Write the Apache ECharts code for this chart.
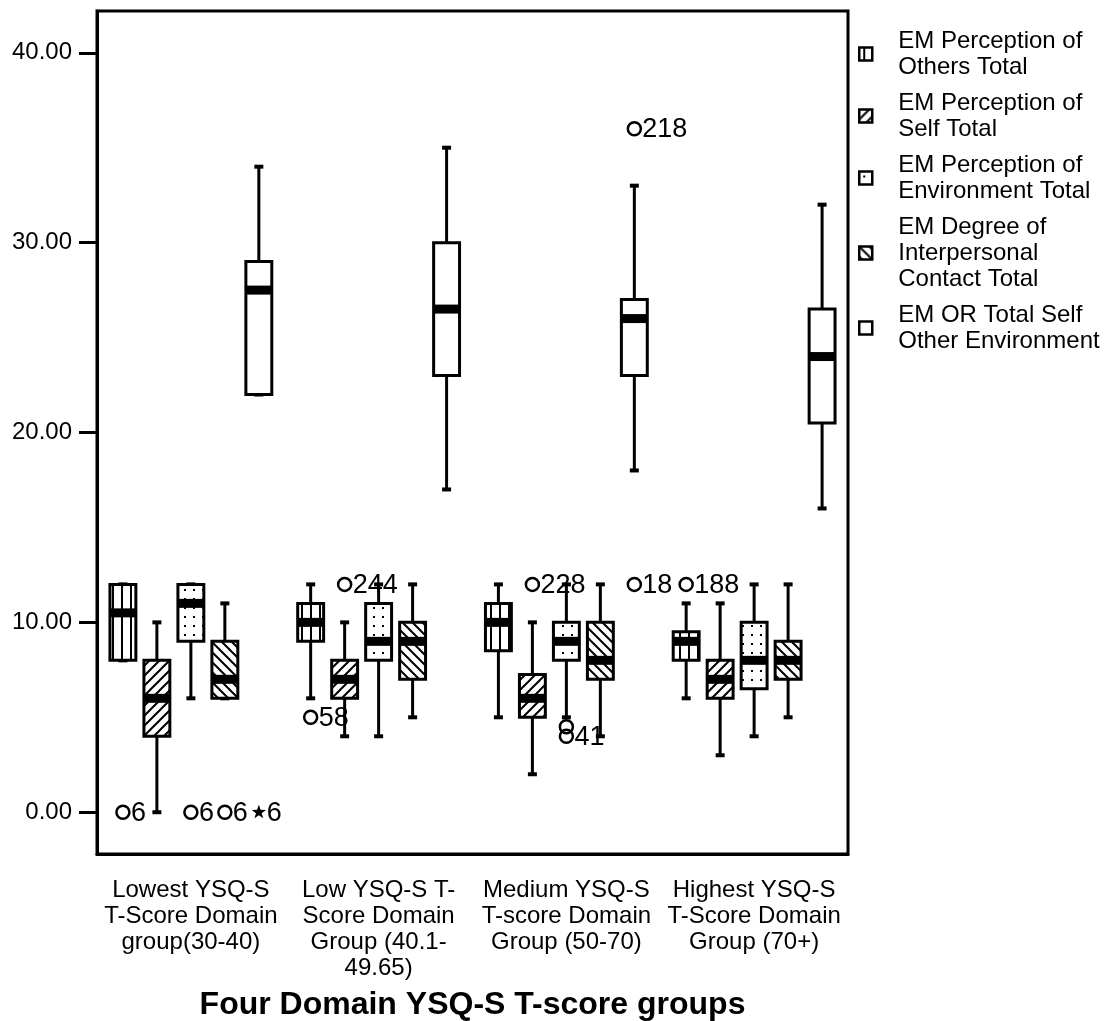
<!DOCTYPE html>
<html>
<head>
<meta charset="utf-8">
<script src="https://cdn.jsdelivr.net/npm/echarts@6/dist/echarts.min.js"></script>
<style>
  html, body { margin: 0; padding: 0; background: #fff; }
  #chart { width: 1112px; height: 1021px; }
</style>
</head>
<body>
<div id="chart"></div>
<script>
// x categories
var categories = [
  'Lowest YSQ-S\nT-Score Domain\ngroup(30-40)',
  'Low YSQ-S T-\nScore Domain\nGroup (40.1-\n49.65)',
  'Medium YSQ-S\nT-score Domain\nGroup (50-70)',
  'Highest YSQ-S\nT-Score Domain\nGroup (70+)'
];
var seriesNames = [
  'EM Perception of\nOthers Total',
  'EM Perception of\nSelf Total',
  'EM Perception of\nEnvironment Total',
  'EM Degree of\nInterpersonal\nContact Total',
  'EM OR Total Self\nOther Environment'
];
var yTicks = [0, 10, 20, 30, 40];

// box stats per group: [lower whisker, Q1, median, Q3, upper whisker]
var othersBox  = [[8, 8, 10.5, 12, 12], [6, 9, 10, 11, 12], [5, 8.5, 10, 11, 12], [6, 8, 9, 9.5, 11]];
var selfBox    = [[0, 4, 6, 8, 10], [4, 6, 7, 8, 10], [2, 5, 6, 7.25, 10], [3, 6, 7, 8, 11]];
var envBox     = [[6, 9, 11, 12, 12], [4, 8, 9, 11, 12], [5, 8, 9, 10, 12], [4, 6.5, 8, 10, 12]];
var contactBox = [[6, 6, 7, 9, 11], [5, 7, 9, 10, 12], [4, 7, 8, 10, 12], [5, 7, 8, 9, 12]];
var totalBox   = [[22, 22, 27.5, 29, 34], [17, 23, 26.5, 30, 35], [18, 23, 26, 27, 33], [16, 20.5, 24, 26.5, 32]];

// outliers: [group index, value, case label, extreme(1) or not(0)]
var othersOut  = [[0, 0, '6', 0], [1, 5, '58', 0], [3, 12, '188', 0]];
var selfOut    = [[1, 12, '244', 0], [2, 12, '228', 0]];
var envOut     = [[0, 0, '6', 0], [2, 4.5, '', 0], [2, 4, '41', 0]];
var contactOut = [[0, 0, '6', 0]];
var totalOut   = [[0, 0, '6', 1], [2, 36, '218', 0], [2, 12, '18', 0]];

var boxes = [othersBox, selfBox, envBox, contactBox, totalBox];
var outs = [othersOut, selfOut, envOut, contactOut, totalOut];
var patternKinds = ['vert', 'fwd', 'dots', 'back', 'none'];

var FONT = 'Liberation Sans, Arial, sans-serif';
var SLOT = 0.181;   // distance between boxes, share of band
var BOXW = 0.138;   // box width, share of band

function makePattern(kind) {
  if (kind === 'none') return '#fff';
  var s = (kind === 'dots' || kind === 'vert') ? 9 : 10;
  var c = document.createElement('canvas');
  c.width = s; c.height = s;
  var g = c.getContext('2d');
  g.fillStyle = '#fff';
  g.fillRect(0, 0, s, s);
  g.fillStyle = '#000';
  g.strokeStyle = '#000';
  g.lineWidth = 2;
  if (kind === 'vert') {
    g.fillRect(4, 0, 2, s);
  } else if (kind === 'dots') {
    g.fillRect(4, 4, 2, 2);
  } else if (kind === 'fwd') {
    g.beginPath();
    g.moveTo(-1, s + 1); g.lineTo(s + 1, -1);
    g.moveTo(-2, 2); g.lineTo(2, -2);
    g.moveTo(s - 2, s + 2); g.lineTo(s + 2, s - 2);
    g.stroke();
  } else if (kind === 'back') {
    g.beginPath();
    g.moveTo(-1, -1); g.lineTo(s + 1, s + 1);
    g.moveTo(s - 2, -2); g.lineTo(s + 2, 2);
    g.moveTo(-2, s - 2); g.lineTo(2, s + 2);
    g.stroke();
  }
  return { image: c, repeat: 'repeat' };
}
var patterns = patternKinds.map(makePattern);

function boxRenderer(slot, fill) {
  return function (params, api) {
    var band = api.size([1, 0])[0];
    var cx = api.coord([api.value(0), 0])[0] + (slot - 2) * band * SLOT;
    var w = band * BOXW;
    var yMin = api.coord([0, api.value(1)])[1];
    var yQ1 = api.coord([0, api.value(2)])[1];
    var yMed = api.coord([0, api.value(3)])[1];
    var yQ3 = api.coord([0, api.value(4)])[1];
    var yMax = api.coord([0, api.value(5)])[1];
    var line = { stroke: '#000', lineWidth: 3 };
    return {
      type: 'group',
      children: [
        { type: 'line', shape: { x1: cx, y1: yMax, x2: cx, y2: yQ3 }, style: line },
        { type: 'line', shape: { x1: cx, y1: yQ1, x2: cx, y2: yMin }, style: line },
        { type: 'rect', shape: { x: cx - 4.5, y: yMax - 2, width: 9, height: 4 }, style: { fill: '#000' } },
        { type: 'rect', shape: { x: cx - 4.5, y: yMin - 2, width: 9, height: 4 }, style: { fill: '#000' } },
        { type: 'rect', shape: { x: cx - w / 2, y: yQ3, width: w, height: yQ1 - yQ3 },
          style: { fill: fill, stroke: '#000', lineWidth: 3 } },
        { type: 'rect', shape: { x: cx - w / 2, y: yMed - 4.5, width: w, height: 9 }, style: { fill: '#000' } }
      ]
    };
  };
}

function starPoints(cx, cy, r1, r2) {
  var pts = [];
  for (var i = 0; i < 10; i++) {
    var r = i % 2 ? r2 : r1;
    var a = -Math.PI / 2 + i * Math.PI / 5;
    pts.push([cx + r * Math.cos(a), cy + r * Math.sin(a)]);
  }
  return pts;
}

function outRenderer(slot, list) {
  return function (params, api) {
    var band = api.size([1, 0])[0];
    var p = api.coord([api.value(0), api.value(1)]);
    var cx = p[0] + (slot - 2) * band * SLOT;
    var item = list[params.dataIndex];
    var mark = item[3] === 1
      ? { type: 'polygon', shape: { points: starPoints(cx, p[1], 7.5, 3) }, style: { fill: '#000' } }
      : { type: 'circle', shape: { cx: cx, cy: p[1], r: 6.5 }, style: { fill: 'none', stroke: '#000', lineWidth: 2.5 } };
    return {
      type: 'group',
      children: [
        mark,
        { type: 'text', style: { text: item[2], x: cx + 8, y: p[1] + 1, verticalAlign: 'middle',
          fontSize: 27, fontFamily: FONT, fill: '#000' } }
      ]
    };
  };
}

var series = [];
seriesNames.forEach(function (name, i) {
  series.push({
    name: name,
    type: 'custom',
    renderItem: boxRenderer(i, patterns[i]),
    itemStyle: { color: patterns[i], borderColor: '#000', borderWidth: 2.5 },
    encode: { x: 0, y: [1, 2, 3, 4, 5] },
    data: boxes[i].map(function (b, k) { return [k].concat(b); }),
    z: 3
  });
});
seriesNames.forEach(function (name, i) {
  series.push({
    name: name,
    type: 'custom',
    renderItem: outRenderer(i, outs[i]),
    itemStyle: { color: patterns[i] },
    encode: { x: 0, y: 1 },
    data: outs[i].map(function (o) { return [o[0], o[1]]; }),
    z: 4
  });
});

var chart = echarts.init(document.getElementById('chart'));
chart.setOption({
  animation: false,
  backgroundColor: '#fff',
  textStyle: { fontFamily: FONT, color: '#000' },
  grid: {
    left: 97, right: 264, top: 11, bottom: 167,
    show: true, borderColor: '#000', borderWidth: 3,
    containLabel: false, outerBoundsMode: 'none'
  },
  legend: {
    orient: 'vertical',
    left: 853,
    top: 23,
    itemWidth: 13,
    itemHeight: 13,
    itemGap: 10,
    icon: 'rect',
    textStyle: { fontSize: 24, lineHeight: 26, color: '#000', fontFamily: FONT, padding: [0, 0, 0, 21] },
    data: seriesNames.map(function (n, i) {
      return { name: n, itemStyle: { color: patterns[i], borderColor: '#000', borderWidth: 2.5 } };
    })
  },
  xAxis: {
    type: 'category',
    data: categories,
    boundaryGap: true,
    name: 'Four Domain YSQ-S T-score groups',
    nameLocation: 'middle',
    nameGap: 135,
    nameTextStyle: { fontSize: 32, fontWeight: 'bold', color: '#000', fontFamily: FONT },
    axisLine: { onZero: false, lineStyle: { color: '#000', width: 3 } },
    axisTick: { alignWithLabel: true, length: 16, lineStyle: { color: '#000', width: 3 } },
    axisLabel: { interval: 0, margin: 23, fontSize: 24, lineHeight: 26, color: '#000', fontFamily: FONT },
    splitLine: { show: false }
  },
  yAxis: {
    type: 'value',
    min: -2.2,
    max: 42.2,
    axisLine: { show: true, lineStyle: { color: '#000', width: 3 } },
    axisTick: { show: true, length: 18, customValues: yTicks, lineStyle: { color: '#000', width: 3 } },
    axisLabel: {
      customValues: yTicks, margin: 25, fontSize: 24, color: '#000', fontFamily: FONT,
      formatter: function (v) { return v.toFixed(2); }
    },
    splitLine: { show: false }
  },
  series: series
});
</script>
</body>
</html>
